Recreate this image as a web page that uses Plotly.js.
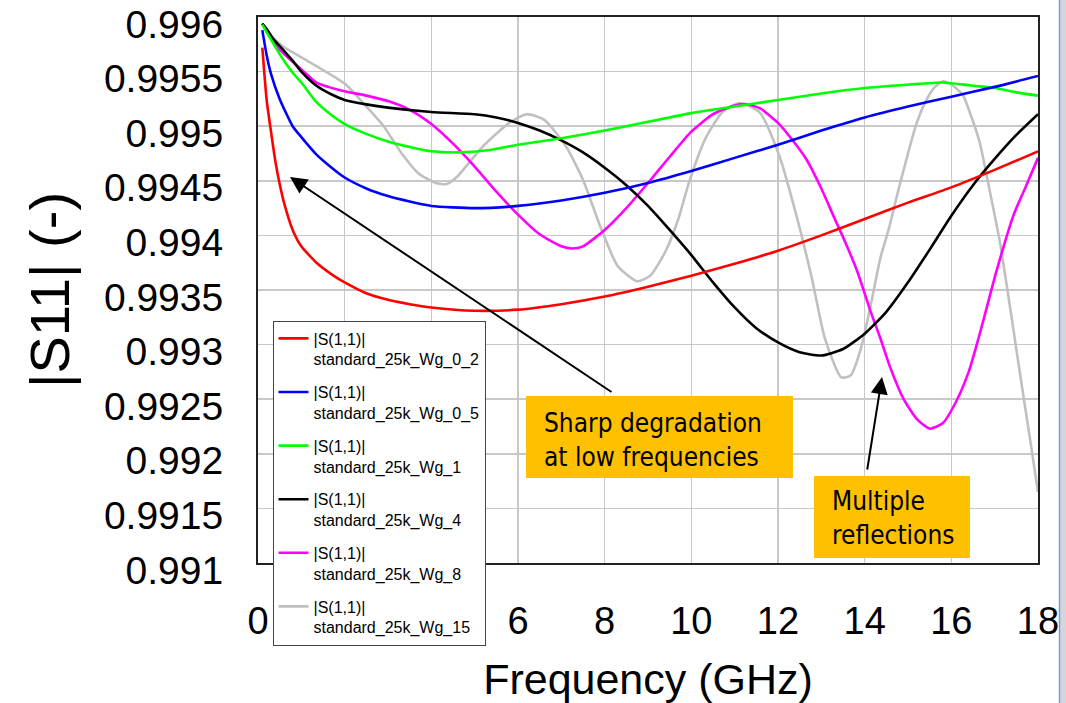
<!DOCTYPE html>
<html>
<head>
<meta charset="utf-8">
<script src="https://cdn.plot.ly/plotly-3.0.1.min.js"></script>
<style>html,body{margin:0;padding:0;background:#fff;}#chart{width:1066px;height:703px;}</style>
</head>
<body>
<div id="chart"></div>
<script>
// ---- data ----
const freqRed = [0.1,0.2,0.3,0.4,0.5,0.6,0.8,1.0,1.35,1.75,2.0,2.5,3.0,3.5,4.0,5.0,6.0,7.0,8.0,9.0,10.0,11.0,12.0,13.0,14.0,15.0,16.0,17.0,18.0];
const s11Red  = [0.99572,0.99524,0.99495,0.99468,0.99447,0.99430,0.99405,0.99390,0.99375,0.99363,0.99357,0.99347,0.99341,0.99337,0.99334,0.99331,0.99332,0.99337,0.99344,0.99353,0.99363,0.99374,0.99386,0.99400,0.99415,0.99430,0.99444,0.99460,0.99477];

const freqBlue = [0.1,0.2,0.3,0.5,0.8,1.0,1.35,1.7,2.0,2.5,3.0,3.5,4.0,5.0,6.0,7.0,8.0,9.0,10.0,11.0,12.0,13.0,14.0,15.0,16.0,17.0,18.0];
const s11Blue  = [0.99588,0.99565,0.99548,0.99525,0.99500,0.99490,0.99474,0.99462,0.99453,0.99443,0.99436,0.99431,0.99427,0.99425,0.99427,0.99432,0.99439,0.99448,0.99459,0.99471,0.99483,0.99496,0.99508,0.99518,0.99527,0.99536,0.99546];

const freqGreen = [0.1,0.2,0.35,0.58,0.8,1.0,1.35,1.7,2.0,2.5,3.0,3.5,4.0,4.66,5.3,6.0,7.0,8.0,9.0,10.0,11.0,12.0,13.0,14.0,15.0,15.8,16.5,17.0,17.5,18.0];
const s11Green  = [0.99593,0.99586,0.99576,0.99561,0.99549,0.99540,0.99522,0.99510,0.99502,0.99493,0.99486,0.99481,0.99477,0.99476,0.99478,0.99483,0.99489,0.99496,0.99504,0.99512,0.99518,0.99524,0.99530,0.99535,0.99538,0.99540,0.99537,0.99535,0.99531,0.99528];

const freqBlack = [0.1,0.2,0.35,0.58,0.8,1.0,1.35,1.7,2.0,2.5,3.0,4.0,5.0,5.5,6.0,6.5,7.0,7.5,8.0,8.5,9.0,9.5,10.0,10.5,11.0,11.5,12.0,12.5,13.0,13.5,14.0,14.5,15.0,15.5,16.0,16.5,17.0,17.5,18.0];
const s11Black  = [0.99594,0.99589,0.99580,0.99570,0.99560,0.99550,0.99537,0.99529,0.99524,0.99520,0.99517,0.99513,0.99511,0.99508,0.99503,0.99496,0.99487,0.99476,0.99462,0.99446,0.99427,0.99405,0.99382,0.99357,0.99334,0.99315,0.99302,0.99293,0.99290,0.99296,0.99310,0.99330,0.99357,0.99387,0.99418,0.99446,0.99470,0.99492,0.99511];

const freqMagenta = [0.1,0.2,0.35,0.58,1.0,1.35,2.0,2.5,3.0,3.5,4.0,4.5,5.0,5.5,6.0,6.5,7.0,7.25,7.5,8.0,8.5,9.0,9.5,10.0,10.5,11.0,11.3,11.6,12.0,12.3,12.65,13.0,13.3,13.55,13.83,14.14,14.36,14.6,14.9,15.2,15.5,15.8,16.1,16.4,16.65,17.04,17.44,17.7,18.0];
const s11Magenta  = [0.99594,0.99587,0.99577,0.99567,0.99552,0.99540,0.99532,0.99528,0.99523,0.99515,0.99502,0.99484,0.99463,0.99440,0.99419,0.99401,0.99390,0.99388,0.99390,0.99405,0.99425,0.99448,0.99472,0.99495,0.99511,0.99519,0.99520,0.99516,0.99503,0.99489,0.99470,0.99443,0.99416,0.99394,0.99367,0.99330,0.99306,0.99278,0.99250,0.99232,0.99223,0.99228,0.99247,0.99275,0.99309,0.99367,0.99419,0.99443,0.99471];

const freqGray = [0.1,0.3,0.58,1.0,1.35,2.0,2.5,2.9,3.3,3.7,4.1,4.35,4.6,5.2,5.8,6.2,6.6,7.1,7.5,7.9,8.3,8.75,9.05,9.4,9.7,9.95,10.33,10.72,11.1,11.57,12.03,12.42,12.78,13.08,13.46,13.68,13.91,14.14,14.36,14.55,14.8,15.0,15.2,15.4,15.6,15.8,16.0,16.26,16.45,16.65,16.89,17.12,17.36,17.59,17.83,18.0];
const s11Gray  = [0.99594,0.99583,0.99573,0.99563,0.99555,0.99539,0.99518,0.99500,0.99476,0.99457,0.99448,0.99447,0.99454,0.99482,0.99503,0.99511,0.99506,0.99482,0.99451,0.99408,0.99372,0.99358,0.99363,0.99385,0.99415,0.99449,0.99489,0.99513,0.99521,0.99513,0.99473,0.99419,0.99361,0.99306,0.99270,0.99272,0.99296,0.99336,0.99379,0.99405,0.99445,0.99475,0.99503,0.99522,0.99535,0.99541,0.99538,0.99529,0.99510,0.99486,0.99440,0.99394,0.99333,0.99272,0.99210,0.99165];

const seriesNames = [
  "|S(1,1)|<br>standard_25k_Wg_0_2",
  "|S(1,1)|<br>standard_25k_Wg_0_5",
  "|S(1,1)|<br>standard_25k_Wg_1",
  "|S(1,1)|<br>standard_25k_Wg_4",
  "|S(1,1)|<br>standard_25k_Wg_8",
  "|S(1,1)|<br>standard_25k_Wg_15"
];
const seriesColors = ["#ff0000","#0000ff","#00ff00","#000000","#ff00ff","#c0c0c0"];

const xTickVals = [0,2,4,6,8,10,12,14,16,18];
// "2" and "4" are hidden behind the legend in the reference
const xTickText = ["0","","","6","8","10","12","14","16","18"];
const yTickVals = [0.991,0.9915,0.992,0.9925,0.993,0.9935,0.994,0.9945,0.995,0.9955,0.996];
const yTickText = ["0.991","0.9915","0.992","0.9925","0.993","0.9935","0.994","0.9945","0.995","0.9955","0.996"];

const note1 = "Sharp degradation<br>at low frequencies";
const note2 = "Multiple<br>reflections";

// ---- geometry helpers (pixel -> axis coordinates) ----
const M = {l:258, r:28, t:17, b:140};
const W = 1066, H = 703;
const PW = W - M.l - M.r, PH = H - M.t - M.b;
const X0 = 0, X1 = 18, Y0 = 0.991, Y1 = 0.996;
const X = px => X0 + (px - M.l) / PW * (X1 - X0);
const Y = py => Y1 - (py - M.t) / PH * (Y1 - Y0);
const PX = px => (px - M.l) / PW;
const PY = py => (H - M.b - py) / PH;

const xs = [freqRed, freqBlue, freqGreen, freqBlack, freqMagenta, freqGray];
const ys = [s11Red, s11Blue, s11Green, s11Black, s11Magenta, s11Gray];

const traces = [];
// draw gray first (underneath), legend order via legendrank
for (let k = 5; k >= 0; k--) {
  traces.push({
    x: xs[k], y: ys[k], type: 'scatter', mode: 'lines',
    name: seriesNames[k], legendgroup: 'g' + k, legendrank: k + 1,
    line: {color: seriesColors[k], width: 2.6, shape: 'spline', smoothing: 0.6},
    hoverinfo: 'skip'
  });
}

const font = 'Liberation Sans, Arial, sans-serif';
const noteFont = 'DejaVu Sans Condensed, DejaVu Sans, Verdana, sans-serif';
const eps = 1e-8;

const layout = {
  width: W, height: H,
  margin: M,
  paper_bgcolor: '#ffffff', plot_bgcolor: '#ffffff',
  showlegend: true,
  xaxis: {
    range: [X0, X1], tickmode: 'array', tickvals: xTickVals, ticktext: xTickText,
    showgrid: true, gridcolor: '#c8c8c8', gridwidth: 1.5,
    zeroline: false, showline: true, mirror: true, linecolor: '#222', linewidth: 2,
    ticks: '', ticklabelstandoff: 23,
    tickfont: {family: font, size: 38, color: '#000'},
    title: {text: 'Frequency (GHz)', font: {family: font, size: 43, color: '#000'}, standoff: 25}
  },
  yaxis: {
    range: [Y0 - eps, Y1 + eps], tickmode: 'array', tickvals: yTickVals, ticktext: yTickText,
    showgrid: true, gridcolor: '#c8c8c8', gridwidth: 1.5,
    zeroline: false, showline: true, mirror: true, linecolor: '#222', linewidth: 2,
    ticks: '', ticklabelstandoff: 25, ticklabelshift: 7,
    tickfont: {family: font, size: 39, color: '#000'},
    title: {text: '|S11| (-)', font: {family: font, size: 56, color: '#000'}, standoff: 16}
  },
  legend: {
    x: PX(272.5), y: PY(320.5), xanchor: 'left', yanchor: 'top',
    bgcolor: '#ffffff', bordercolor: '#444', borderwidth: 1,
    font: {family: font, size: 16, color: '#000'},
    tracegroupgap: 9, valign: 'top', traceorder: 'grouped'
  },
  shapes: [
    {type: 'rect', xref: 'x', yref: 'y', x0: X(526), x1: X(793), y0: Y(478), y1: Y(396),
     fillcolor: '#ffc000', line: {width: 0}, layer: 'above'},
    {type: 'rect', xref: 'x', yref: 'y', x0: X(814), x1: X(970), y0: Y(558), y1: Y(476),
     fillcolor: '#ffc000', line: {width: 0}, layer: 'above'},
    {type: 'rect', xref: 'paper', yref: 'paper', x0: PX(1059), x1: PX(1068), y0: PY(705), y1: PY(-2),
     fillcolor: '#d4d6da', line: {width: 0}},
    {type: 'line', xref: 'paper', yref: 'paper', x0: PX(1059.5), x1: PX(1059.5), y0: PY(705), y1: PY(-2),
     line: {color: '#7d9ad0', width: 1.5}}
  ],
  annotations: [
    {x: X(542), y: Y(440), xref: 'x', yref: 'y', xanchor: 'left', yanchor: 'middle', align: 'left',
     text: note1, showarrow: false, font: {family: noteFont, size: 26, color: '#000'}},
    {x: X(830), y: Y(518), xref: 'x', yref: 'y', xanchor: 'left', yanchor: 'middle', align: 'left',
     text: note2, showarrow: false, font: {family: noteFont, size: 26, color: '#000'}},
    {x: X(290), y: Y(177), ax: X(613), ay: Y(393), xref: 'x', yref: 'y', axref: 'x', ayref: 'y',
     text: '', showarrow: true, arrowhead: 2, arrowsize: 1.7, arrowwidth: 2, arrowcolor: '#000'},
    {x: X(882), y: Y(377), ax: X(867), ay: Y(471), xref: 'x', yref: 'y', axref: 'x', ayref: 'y',
     text: '', showarrow: true, arrowhead: 2, arrowsize: 1.7, arrowwidth: 2, arrowcolor: '#000'}
  ]
};

Plotly.newPlot('chart', traces, layout, {staticPlot: true, displayModeBar: false});
</script>
</body>
</html>
